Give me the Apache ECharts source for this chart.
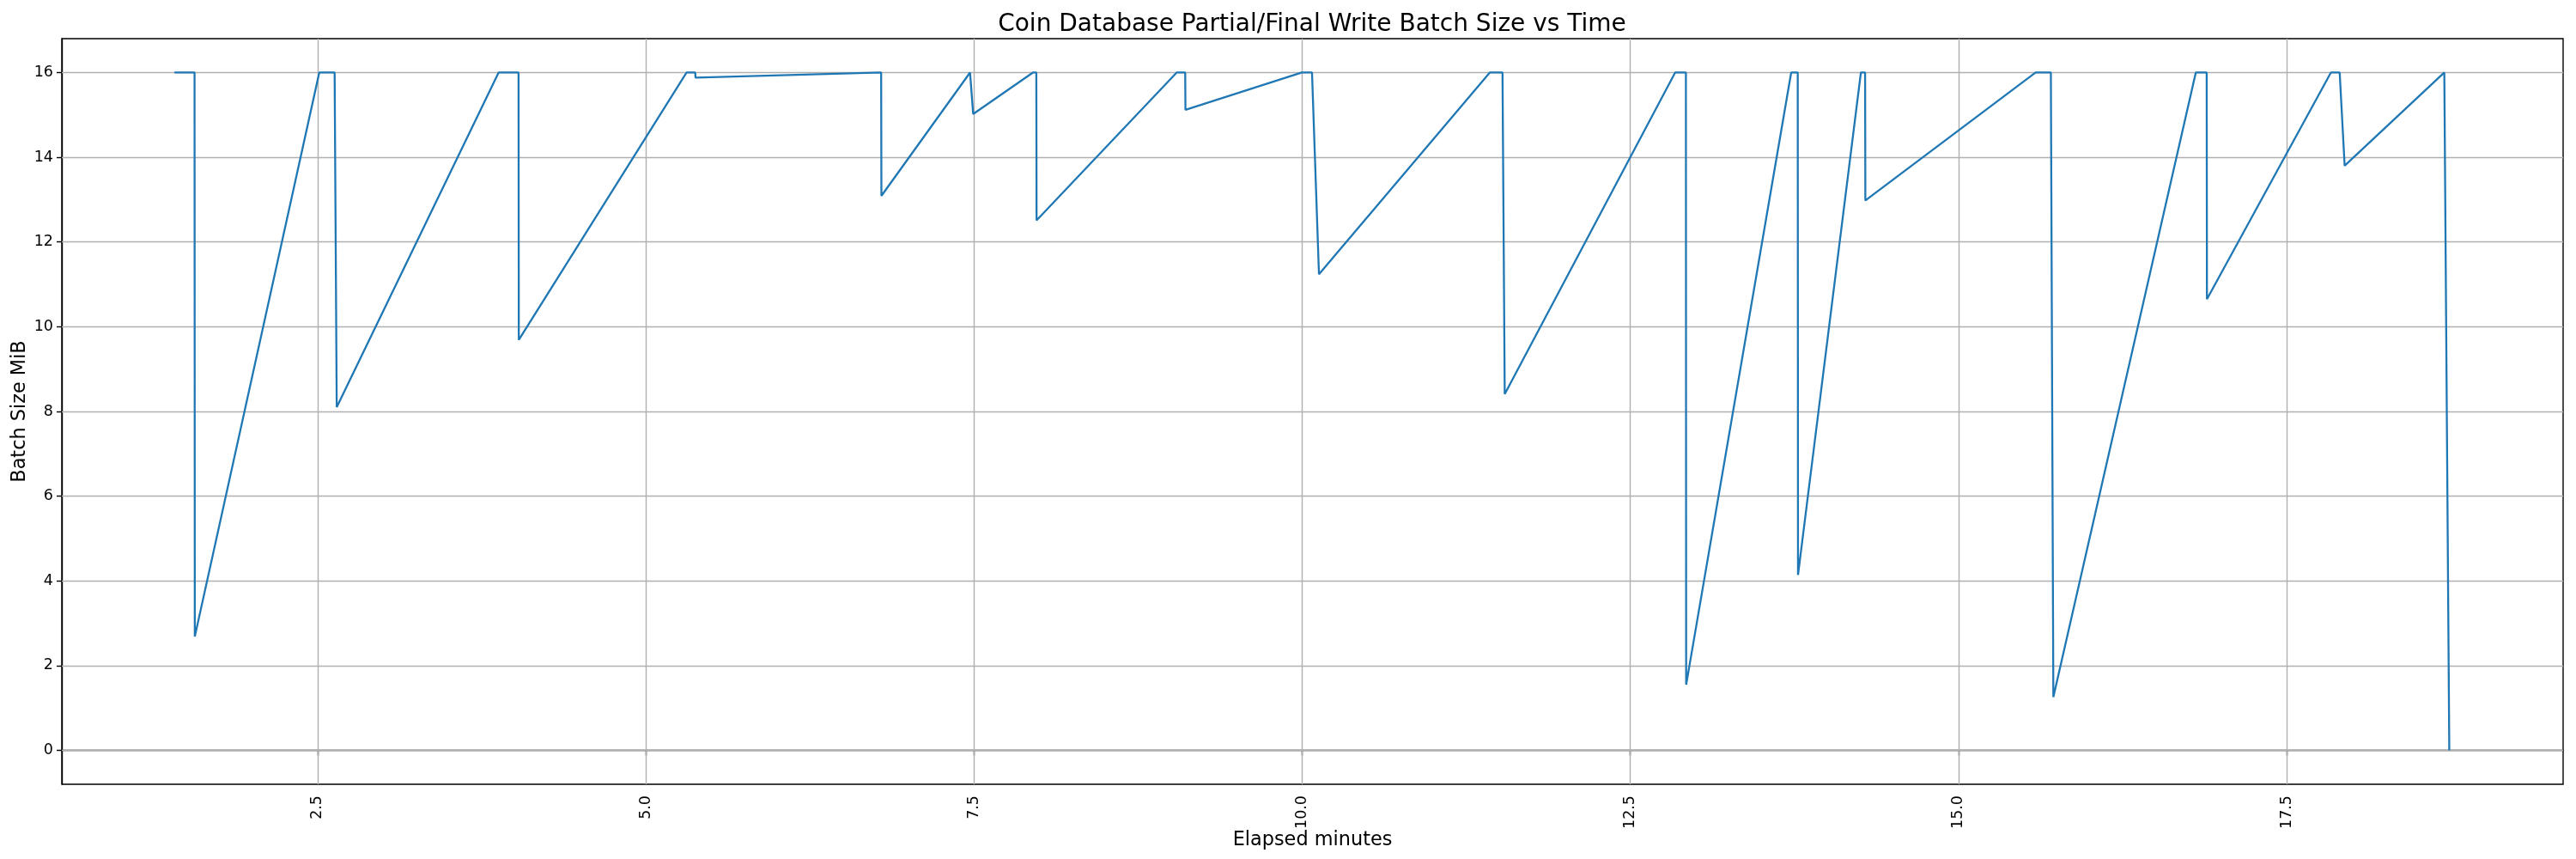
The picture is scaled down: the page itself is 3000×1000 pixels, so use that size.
<!DOCTYPE html>
<html>
<head>
<meta charset="utf-8">
<script src="https://cdn.jsdelivr.net/npm/echarts@6/dist/echarts.min.js"></script>
<style>
html,body{margin:0;padding:0;background:#fff;}
#chart{width:3000px;height:1000px;}
</style>
</head>
<body>
<div id="chart"></div>
<script>
// Elapsed minutes (x) and batch size in MiB (y)
const elapsedMinutes = [
  1.41, 1.563, 1.565, 2.513, 2.63, 2.646, 3.879, 4.031, 4.033, 5.311,
  5.377, 5.379, 6.793, 6.795, 7.470, 7.494, 7.949, 7.975, 7.977, 9.044,
  9.109, 9.111, 9.998, 10.075, 10.128, 11.429, 11.526, 11.543, 12.841, 12.923,
  12.925, 13.725, 13.775, 13.777, 14.256, 14.288, 14.290, 15.587, 15.703, 15.722,
  16.807, 16.890, 16.892, 17.836, 17.903, 17.941, 18.700, 18.738
];
const batchSizeMiB = [
  16, 16, 2.69, 16, 16, 8.10, 16, 16, 9.69, 16,
  16, 15.88, 16, 13.09, 16, 15.02, 16, 16, 12.51, 16,
  16, 15.12, 16, 16, 11.24, 16, 16, 8.41, 16, 16,
  1.55, 16, 16, 4.14, 16, 16, 12.98, 16, 16, 1.26,
  16, 16, 10.65, 16, 16, 13.80, 16, 0
];
const xTicks = [2.5, 5.0, 7.5, 10.0, 12.5, 15.0, 17.5];
const yTicks = [0, 2, 4, 6, 8, 10, 12, 14, 16];
const titleText = 'Coin Database Partial/Final Write Batch Size vs Time';
const xAxisName = 'Elapsed minutes';
const yAxisName = 'Batch Size MiB';

const FONT = 'DejaVu Sans';
const points = elapsedMinutes.map((t, i) => [t, batchSizeMiB[i]]);
const gridLineStyle = { color: '#b0b0b0', width: 1.4, type: 'solid' };

const chart = echarts.init(document.getElementById('chart'), null, { renderer: 'canvas' });
chart.setOption({
  animation: false,
  backgroundColor: '#ffffff',
  graphic: [{
    type: 'text',
    x: 1528, y: 29,
    style: {
      text: titleText,
      font: '28px "DejaVu Sans"',
      fill: '#000',
      align: 'center',
      verticalAlign: 'middle'
    }
  }],
  grid: {
    left: 72, right: 15, top: 45, bottom: 87,
    show: true, borderColor: '#000', borderWidth: 1.4,
    containLabel: false, outerBoundsMode: 'none'
  },
  xAxis: {
    type: 'value',
    min: 0.552, max: 19.605,
    name: xAxisName,
    nameLocation: 'middle',
    nameGap: 54,
    nameMoveOverlap: false,
    nameTextStyle: { fontFamily: FONT, fontSize: 22.4, color: '#000' },
    axisLine: { show: true, lineStyle: { color: '#000', width: 1.4 } },
    axisTick: { show: true, length: 6, lineStyle: { color: '#000', width: 1.4 }, customValues: xTicks },
    axisLabel: {
      show: true, rotate: 90, margin: 13,
      fontFamily: FONT, fontSize: 17.5, color: '#000',
      customValues: xTicks,
      formatter: v => Number(v).toFixed(1)
    },
    splitLine: { show: false }
  },
  yAxis: {
    type: 'value',
    min: -0.8, max: 16.8,
    name: yAxisName,
    nameLocation: 'middle',
    nameRotate: 90,
    nameGap: 38,
    nameMoveOverlap: false,
    nameTextStyle: { fontFamily: FONT, fontSize: 22.4, color: '#000' },
    axisLine: { show: true, lineStyle: { color: '#000', width: 1.4 } },
    axisTick: { show: true, length: 6, lineStyle: { color: '#000', width: 1.4 }, customValues: yTicks },
    axisLabel: {
      show: true, margin: 10,
      fontFamily: FONT, fontSize: 17.5, color: '#000',
      customValues: yTicks,
      formatter: v => String(Math.round(v))
    },
    splitLine: { show: false }
  },
  series: [{
    type: 'line',
    data: points,
    showSymbol: false,
    symbol: 'none',
    z: 3,
    lineStyle: { color: '#1f77b4', width: 2.3 },
    itemStyle: { color: '#1f77b4' },
    markLine: {
      silent: true,
      z: 1,
      symbol: ['none', 'none'],
      label: { show: false },
      lineStyle: gridLineStyle,
      emphasis: { disabled: true },
      data: xTicks.map(v => ({ xAxis: v })).concat(yTicks.map(v => ({ yAxis: v })))
    }
  }]
});
</script>
</body>
</html>
